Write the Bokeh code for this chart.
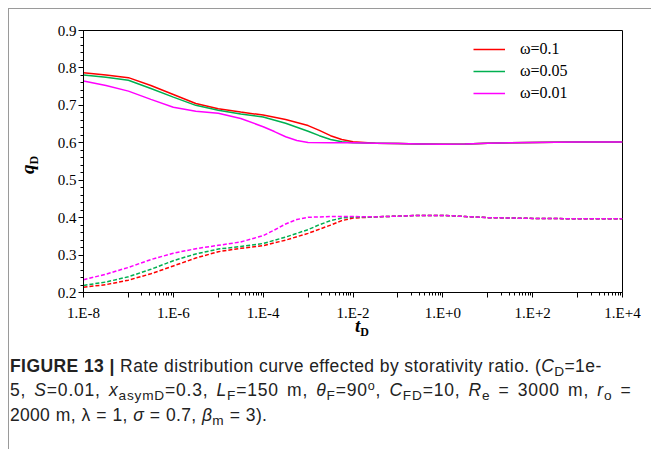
from bokeh.plotting import figure
from bokeh.models import (Range1d, FixedTicker, SingleIntervalTicker, Legend, LegendItem, Div)
from bokeh.layouts import column, row
from bokeh.embed import file_html
from bokeh.resources import INLINE

# ---------------- data (log10 of t_D, q_D) ----------------
red_solid_log = [-8, -7.5, -7, -6.5, -6, -5.5, -5, -4.5, -4, -3.5, -3, -2.75, -2.5, -2.25, -2,
                 -1.5, -1, -0.5, 0, 0.5, 1, 1.5, 2, 3, 4]
red_solid_q = [0.787, 0.781, 0.774, 0.753, 0.729, 0.705, 0.691, 0.682, 0.674, 0.662, 0.646, 0.633,
               0.619, 0.609, 0.603, 0.599, 0.598, 0.597, 0.596, 0.597, 0.599, 0.600, 0.601, 0.602, 0.602]

green_solid_log = [-8, -7.5, -7, -6.5, -6, -5.5, -5, -4.5, -4, -3.5, -3, -2.75, -2.5, -2.25, -2,
                   -1.5, -1, -0.5, 0, 0.5, 1, 1.5, 2, 3, 4]
green_solid_q = [0.781, 0.775, 0.767, 0.745, 0.722, 0.700, 0.687, 0.677, 0.669, 0.652, 0.631, 0.619,
                 0.609, 0.603, 0.600, 0.599, 0.598, 0.597, 0.596, 0.597, 0.599, 0.600, 0.601, 0.602, 0.602]

mag_solid_log = [-8, -7.5, -7, -6.5, -6, -5.5, -5, -4.5, -4, -3.75, -3.5, -3.25, -3, -2.5, -2,
                 -1.5, -1, -0.5, 0, 0.5, 1, 1.5, 2, 3, 4]
mag_solid_q = [0.765, 0.753, 0.738, 0.716, 0.695, 0.684, 0.679, 0.665, 0.643, 0.630, 0.616, 0.606,
               0.601, 0.600, 0.600, 0.599, 0.598, 0.597, 0.596, 0.597, 0.599, 0.600, 0.601, 0.602, 0.602]

red_dash_log = [-8, -7.5, -7, -6.5, -6, -5.5, -5, -4.5, -4, -3.5, -3, -2.5, -2.25, -2,
                -1.5, -1, -0.5, 0, 0.5, 1, 1.5, 2, 3, 4]
red_dash_q = [0.214, 0.221, 0.233, 0.250, 0.271, 0.292, 0.309, 0.318, 0.325, 0.340, 0.358, 0.380,
              0.392, 0.399, 0.402, 0.404, 0.406, 0.406, 0.403, 0.400, 0.399, 0.398, 0.397, 0.397]

green_dash_log = [-8, -7.5, -7, -6.5, -6, -5.5, -5, -4.5, -4, -3.5, -3, -2.75, -2.5, -2.25, -2,
                  -1.5, -1, -0.5, 0, 0.5, 1, 1.5, 2, 3, 4]
green_dash_q = [0.219, 0.228, 0.242, 0.262, 0.285, 0.303, 0.316, 0.323, 0.331, 0.348, 0.368, 0.381,
                0.392, 0.399, 0.402, 0.402, 0.404, 0.406, 0.406, 0.403, 0.400, 0.399, 0.398, 0.397, 0.397]

mag_dash_log = [-8, -7.5, -7, -6.5, -6, -5.5, -5, -4.5, -4, -3.75, -3.5, -3.25, -3, -2.5, -2,
                -1.5, -1, -0.5, 0, 0.5, 1, 1.5, 2, 3, 4]
mag_dash_q = [0.234, 0.249, 0.267, 0.288, 0.305, 0.317, 0.326, 0.335, 0.352, 0.367, 0.383, 0.395,
              0.401, 0.403, 0.403, 0.402, 0.404, 0.406, 0.406, 0.403, 0.400, 0.399, 0.398, 0.397, 0.397]

series_labels = ["ω=0.1", "ω=0.05", "ω=0.01"]
series_colors = ["#ff0000", "#00b050", "#ff00ff"]

x_tick_decades = list(range(-8, 5))
x_label_decades = [-8, -6, -4, -2, 0, 2, 4]
x_minor_decades = [-7, -5, -3, -1, 1, 3]
y_start, y_end = 0.2, 0.9

# ---------------- figure ----------------
SERIF = "Liberation Serif"
QDIV_W = 36
FIG_BOTTOM = 30
FIG_H = 21 + 262 + FIG_BOTTOM
TDIV_H = 20

p = figure(x_axis_type="log", frame_width=539, frame_height=262,
           min_border_left=74 - QDIV_W, min_border_right=21, min_border_top=21,
           min_border_bottom=FIG_BOTTOM,
           x_range=Range1d(1e-8, 1e4), y_range=Range1d(y_start, y_end),
           output_backend="svg", toolbar_location=None, margin=0)
p.grid.visible = False
p.outline_line_color = "black"
p.outline_line_width = 1
p.background_fill_color = "white"
p.border_fill_color = "white"

ticks = [10.0 ** d for d in x_tick_decades]
minor = [m * 10.0 ** d for d in x_minor_decades for m in range(2, 10)]
p.xaxis.ticker = FixedTicker(ticks=ticks, minor_ticks=minor)


def fmt(d):
    return "1.E%s%d" % ("+" if d >= 0 else "-", abs(d))


p.xaxis.major_label_overrides = {10.0 ** d: (fmt(d) if d in x_label_decades else "")
                                 for d in x_tick_decades}
p.yaxis.ticker = SingleIntervalTicker(interval=0.1, num_minor_ticks=5)

for ax in (p.xaxis, p.yaxis):
    ax.axis_line_color = "black"
    ax.axis_line_width = 1
    ax.major_tick_in = 0
    ax.major_tick_out = 5
    ax.minor_tick_in = 0
    ax.minor_tick_out = 3
    ax.major_tick_line_color = "black"
    ax.minor_tick_line_color = "black"
    ax.major_label_text_font = SERIF
    ax.major_label_text_font_size = "15px"
    ax.major_label_text_color = "black"
p.xaxis.major_label_standoff = 7
p.yaxis.major_label_standoff = 2

solid = [(red_solid_log, red_solid_q), (green_solid_log, green_solid_q), (mag_solid_log, mag_solid_q)]
dashed = [(red_dash_log, red_dash_q), (green_dash_log, green_dash_q), (mag_dash_log, mag_dash_q)]

items = []
for (lx, qy), (dx, dq), lab_txt, col in zip(solid, dashed, series_labels, series_colors):
    r = p.line([10.0 ** v for v in lx], qy, line_color=col, line_width=1.5)
    p.line([10.0 ** v for v in dx], dq, line_color=col, line_width=1.5, line_dash="4 2")
    items.append(LegendItem(label=lab_txt, renderers=[r]))

leg = Legend(items=items, location=(390, 189), orientation="vertical",
             glyph_width=32, glyph_height=20, label_height=20, label_standoff=15,
             spacing=2, padding=0, margin=0, border_line_color=None,
             background_fill_alpha=0, label_text_font=SERIF, label_text_font_size="16px",
             label_text_color="black")
p.add_layout(leg)

# ---------------- axis titles as HTML (q_D rotated, t_D) ----------------
TITLE_STYLE = ("font-family:'Liberation Serif',serif;color:black;white-space:nowrap;"
               "font-weight:bold;line-height:22px;text-align:center;")
SUBD = '<span style="font-size:12px;font-style:normal;position:relative;top:4px">D</span>'


def title_html(letter, cx, cy, rotate):
    w, h = 26, 22
    tr = "transform:rotate(-90deg);" if rotate else ""
    return ('<div style="%sposition:relative;left:%dpx;top:%dpx;width:%dpx;height:%dpx;%s">'
            '<i style="font-size:19px">%s</i>%s</div>') % (TITLE_STYLE, cx - w // 2, cy - h // 2,
                                                            w, h, tr, letter, SUBD)


# page positions: qdiv at (9, 9); tdiv at (9, 9+FIG_H)
qdiv = Div(text=title_html("q", 28 - 9, 165 - 9, True), width=QDIV_W, height=FIG_H, margin=0)
tdiv = Div(text=title_html("t", 362 - 9, 325 - (9 + FIG_H), False), width=634, height=TDIV_H,
           margin=0)

# ---------------- caption ----------------
SUB = '<span style="font-size:0.78em;position:relative;top:0.3em">%s</span>'
SUP = '<span style="font-size:0.72em;position:relative;top:-0.5em">%s</span>'
line1 = ('<b>FIGURE 13 |</b> Rate distribution curve effected by storativity ratio. '
         '(<i>C</i>' + SUB % 'D' + '=1e-')
line2 = ('5, <i>S</i>=0.01, <i>x</i>' + SUB % 'asymD' + '=0.3, <i>L</i>' + SUB % 'F' + '=150 m, '
         '<i>&theta;</i>' + SUB % 'F' + '=90' + SUP % 'o' + ', <i>C</i>' + SUB % 'FD' + '=10, '
         '<i>R</i>' + SUB % 'e' + ' = 3000 m, <i>r</i>' + SUB % 'o' + ' =')
line3 = '2000 m, &lambda; = 1, <i>&sigma;</i> = 0.7, <i>&beta;</i>' + SUB % 'm' + ' = 3).'
caption = ('<div style="letter-spacing:0.42px">%s</div>'
           '<div style="letter-spacing:0.8px;word-spacing:2.5px">%s</div>'
           '<div style="letter-spacing:0.3px;word-spacing:0.5px">%s</div>') % (line1, line2, line3)
div = Div(text=caption, width=632, height=80, margin=(12, 0, 0, 1),
          styles={"font-family": "'Liberation Sans', Arial, sans-serif", "font-size": "17.5px",
                  "line-height": "23px", "color": "#222", "white-space": "nowrap"})

GRAY = "#9a9a9a"
top_line = Div(text="", width=643, height=1, margin=0,
               styles={"background-color": GRAY, "overflow": "hidden"})
left_line = Div(text="", width=1, height=440, margin=0,
                styles={"background-color": GRAY, "overflow": "hidden"})

body = column(row(qdiv, p, spacing=0, margin=0), tdiv, div, spacing=0, margin=0)
lay = column(top_line, row(left_line, body, spacing=0, margin=0),
             spacing=0, margin=(8, 0, 0, 8))

open("out.html", "w").write(file_html(lay, INLINE))
